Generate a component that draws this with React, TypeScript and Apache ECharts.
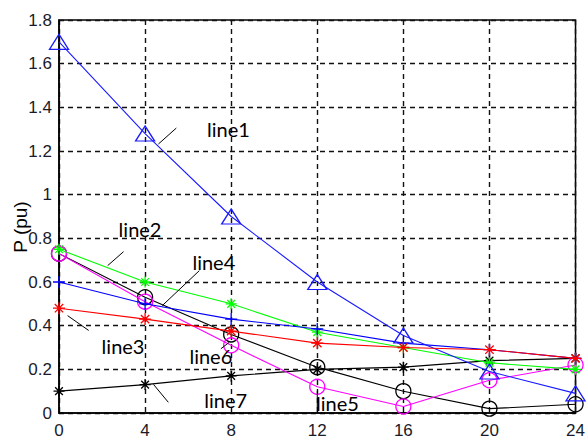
import React, { useEffect, useRef } from "react";
import * as echarts from "echarts";

const xValues = [0, 4, 8, 12, 16, 20, 24];
const line1 = [1.7, 1.28, 0.9, 0.6, 0.355, 0.19, 0.09];
const line2 = [0.75, 0.6, 0.5, 0.37, 0.3, 0.23, 0.2];
const line3 = [0.48, 0.43, 0.375, 0.32, 0.3, 0.29, 0.25];
const line4 = [0.6, 0.5, 0.43, 0.385, 0.32, 0.29, 0.25];
const line5 = [0.73, 0.51, 0.31, 0.12, 0.03, 0.15, 0.22];
const line6 = [0.73, 0.53, 0.36, 0.21, 0.1, 0.02, 0.04];
const line7 = [0.1, 0.13, 0.17, 0.2, 0.21, 0.24, 0.25];

const yTitle = "P (pu)";
const annoLabels = ["line1", "line2", "line3", "line4", "line5", "line6", "line7"];
const annoTextPos = [
  [6.875, 1.3],
  [2.77, 0.844],
  [1.98, 0.309],
  [6.2, 0.69],
  [11.94, 0.044],
  [6.06, 0.259],
  [6.75, 0.058],
];
const annoLeaders = [
  [[4.62, 1.232], [5.45, 1.305]],
  [[2.26, 0.675], [3.0, 0.739]],
  [[0.4, 0.446], [1.38, 0.378]],
  [[4.8, 0.492], [6.52, 0.652]],
  [[12, 0.1], [12, 0.0]],
  [[7.52, 0.294], [7.91, 0.324]],
  [[4.39, 0.131], [5.08, 0.049]],
];

const PLUS = "path://M6 0L6 12M0 6L12 6";
const STAR = "path://M6 0L6 12M0 6L12 6M1.8 1.8L10.2 10.2M10.2 1.8L1.8 10.2";

const pairs = (ys: number[]) => xValues.map((x, i) => [x, ys[i]]);

const mk = (name: string, ys: number[], color: string, symbol: string, size: any, hollow: boolean, z: number) => ({
  name,
  type: "line",
  data: pairs(ys),
  symbol,
  symbolSize: size,
  showSymbol: true,
  z,
  lineStyle: { color, width: 1.1 },
  itemStyle: {
    color: hollow ? "rgba(0,0,0,0)" : color,
    borderColor: color,
    borderWidth: 1.3,
  },
  emphasis: { disabled: true },
});

export default function App() {
  const ref = useRef<HTMLDivElement>(null);
  useEffect(() => {
    if (!ref.current) return;
    const chart = echarts.init(ref.current, null, { renderer: "svg" });
    const option: any = {
      animation: false,
      backgroundColor: "#ffffff",
      grid: {
        left: 59,
        right: 10,
        top: 20,
        bottom: 28,
        show: true,
        borderColor: "#000",
        borderWidth: 1.5,
        backgroundColor: "transparent",
      },
      xAxis: {
        type: "value",
        min: 0,
        max: 24,
        interval: 4,
        axisLine: { show: true, lineStyle: { color: "#000", width: 1.5 } },
        axisTick: { show: false },
        axisLabel: {
          margin: 9,
          color: "#1a1a2a",
          fontFamily: "Liberation Sans",
          fontSize: 17,
        },
        splitLine: { show: true, lineStyle: { color: "#111", width: 1.4, type: [5, 4] } },
      },
      yAxis: {
        type: "value",
        min: 0,
        max: 1.8,
        interval: 0.2,
        axisLine: { show: true, lineStyle: { color: "#000", width: 1.5 } },
        axisTick: { show: false },
        axisLabel: {
          margin: 7,
          color: "#1a1a2a",
          fontFamily: "Liberation Sans",
          fontSize: 17,
          formatter: (v: number) => String(Math.round(v * 10) / 10),
        },
        splitLine: { show: true, lineStyle: { color: "#111", width: 1.4, type: [5, 4] } },
      },
      series: [
        mk("line7", line7, "#000000", STAR, 11, false, 2),
        mk("line6", line6, "#000000", "circle", 15, true, 3),
        mk("line5", line5, "#ff00ff", "circle", 15, true, 4),
        mk("line2", line2, "#00ff00", STAR, 11, false, 5),
        mk("line4", line4, "#0000ff", PLUS, 12, false, 6),
        mk("line1", line1, "#1a1aff", "triangle", [19, 15], true, 7),
        mk("line3", line3, "#ff0000", STAR, 12, false, 8),
      ],
    };
    chart.setOption(option);
    const toPx = (p: number[]) => chart.convertToPixel({ gridIndex: 0 }, p) as number[];
    const graphics: any[] = [];
    annoLabels.forEach((label, i) => {
      const tp = toPx(annoTextPos[i]);
      const a = toPx(annoLeaders[i][0]);
      const b = toPx(annoLeaders[i][1]);
      graphics.push({
        type: "line",
        shape: { x1: a[0], y1: a[1], x2: b[0], y2: b[1] },
        style: { stroke: "#000", lineWidth: 1 },
        z: 50,
      });
      graphics.push({
        type: "text",
        x: tp[0],
        y: tp[1],
        style: {
          text: label,
          fill: "#000",
          font: "20px Lato",
          textAlign: "left",
          textVerticalAlign: "middle",
        },
        z: 60,
      });
    });
    graphics.push({
      type: "text",
      x: 20,
      y: 227,
      rotation: Math.PI / 2,
      style: {
        text: yTitle,
        fill: "#000",
        font: "19px Liberation Sans",
        textAlign: "center",
        textVerticalAlign: "middle",
      },
      z: 60,
    });
    chart.setOption({ graphic: graphics });
    return () => chart.dispose();
  }, []);
  return (
    <div
      ref={ref}
      style={{ position: "fixed", left: 0, top: 0, width: 588, height: 441, background: "#fff" }}
    />
  );
}
